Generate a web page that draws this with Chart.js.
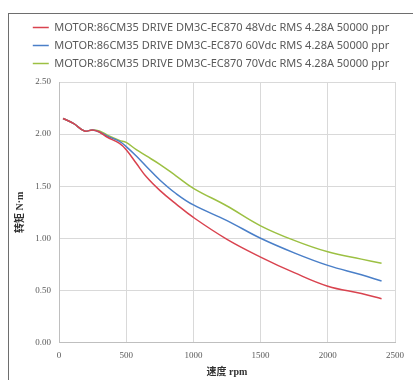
<!DOCTYPE html>
<html>
<head>
<meta charset="utf-8">
<script src="https://cdn.jsdelivr.net/npm/chart.js@4/dist/chart.umd.min.js"></script>
<style>
  html, body { margin: 0; padding: 0; background: #ffffff; overflow: hidden; }
  #wrap { position: relative; width: 413px; height: 380px; overflow: hidden; background: #fff; }
  #frame { position: absolute; left: 8px; top: 13px; width: 405px; height: 367px; border-left: 1px solid #6e6e6e; border-top: 1px solid #6e6e6e; box-sizing: border-box; }
  #c { position: absolute; left: 0; top: 0; }
</style>
</head>
<body>
<div id="wrap">
  <div id="frame"></div>
  <canvas id="c" width="413" height="380"></canvas>
</div>
<script>
// Speed (rpm) sample points
const speedRpm = [30, 110, 190, 250, 300, 360, 450, 500, 575, 650, 750, 870, 1000, 1250, 1500, 1750, 2000, 2250, 2400];
// Torque (N·m) per series
const torque48V = [2.15, 2.10, 2.03, 2.04, 2.02, 1.97, 1.91, 1.85, 1.72, 1.59, 1.46, 1.33, 1.20, 0.99, 0.82, 0.67, 0.54, 0.47, 0.42];
const torque60V = [2.15, 2.10, 2.03, 2.04, 2.02, 1.98, 1.93, 1.88, 1.79, 1.69, 1.56, 1.43, 1.32, 1.17, 1.00, 0.86, 0.74, 0.65, 0.59];
const torque70V = [2.15, 2.10, 2.03, 2.04, 2.03, 1.99, 1.94, 1.92, 1.85, 1.79, 1.71, 1.60, 1.48, 1.31, 1.12, 0.98, 0.87, 0.80, 0.76];
const seriesLabels = [
  'MOTOR:86CM35 DRIVE DM3C-EC870 48Vdc RMS 4.28A 50000 ppr',
  'MOTOR:86CM35 DRIVE DM3C-EC870 60Vdc RMS 4.28A 50000 ppr',
  'MOTOR:86CM35 DRIVE DM3C-EC870 70Vdc RMS 4.28A 50000 ppr'
];
const seriesColors = ['#d9434f', '#4a7fc8', '#9cc043'];
const xTitle = '速度 rpm';
const yTitle = '转矩 N·m';

const seriesValues = [torque48V, torque60V, torque70V];
const datasets = seriesValues.map((vals, i) => ({
  label: seriesLabels[i],
  data: speedRpm.map((s, j) => ({ x: s, y: vals[j] })),
  borderColor: seriesColors[i],
  backgroundColor: seriesColors[i],
  borderWidth: 1.5,
  pointRadius: 0,
  tension: 0.4,
  fill: false
}));

const tickFont = { family: '"Liberation Serif", "DejaVu Serif", serif', size: 9 };
const titleFont = { family: '"Liberation Serif", "Noto Sans CJK SC", serif', size: 10, weight: 'bold' };

new Chart(document.getElementById('c'), {
  type: 'line',
  data: { datasets },
  options: {
    responsive: false,
    animation: false,
    layout: { padding: { left: 14, right: 5, top: 15, bottom: 0 } },
    plugins: {
      legend: {
        position: 'top',
        labels: {
          usePointStyle: true,
          pointStyle: 'line',
          pointStyleWidth: 16,
          padding: 7,
          color: '#595959',
          font: { family: '"Noto Sans", sans-serif', size: 11 }
        }
      },
      tooltip: { enabled: false }
    },
    scales: {
      x: {
        type: 'linear',
        min: 0, max: 2500,
        ticks: { stepSize: 500, color: '#595959', font: tickFont, padding: 8,
                 callback: (v) => String(v) },
        grid: { color: '#d9d9d9', drawTicks: false },
        border: { color: '#bfbfbf' },
        title: { display: true, text: xTitle, color: '#333333', font: titleFont, padding: { top: 2, bottom: 2 } },
        afterFit: (s) => { s.height = 37.5; }
      },
      xT: {
        type: 'linear',
        position: 'top',
        display: true,
        min: 0, max: 2500,
        ticks: { display: false },
        grid: { display: false, drawTicks: false },
        border: { display: false },
        afterFit: (s) => { s.height = 3; }
      },
      y: {
        min: 0, max: 2.5,
        ticks: { stepSize: 0.5, color: '#595959', font: tickFont, padding: 8,
                 callback: (v) => Number(v).toFixed(2) },
        grid: { color: '#d9d9d9', drawTicks: false },
        border: { color: '#bfbfbf' },
        title: { display: true, text: yTitle, color: '#333333', font: titleFont, padding: { top: 0, bottom: 0 } },
        afterFit: (s) => { s.width = 45; }
      },
      yR: {
        position: 'right',
        display: true,
        min: 0, max: 2.5,
        ticks: { display: false },
        grid: { display: false, drawTicks: false },
        border: { display: false },
        afterFit: (s) => { s.width = 13; }
      }
    }
  }
});
</script>
</body>
</html>
